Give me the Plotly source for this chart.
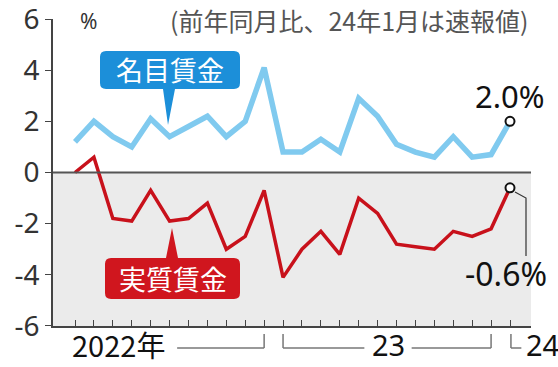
import plotly.graph_objects as go

# ---- data ----
months = ["2022-02", "2022-03", "2022-04", "2022-05", "2022-06", "2022-07",
          "2022-08", "2022-09", "2022-10", "2022-11", "2022-12",
          "2023-01", "2023-02", "2023-03", "2023-04", "2023-05", "2023-06",
          "2023-07", "2023-08", "2023-09", "2023-10", "2023-11", "2023-12",
          "2024-01"]
nominal = [1.2, 2.0, 1.4, 1.0, 2.1, 1.4, 1.8, 2.2, 1.4, 2.0, 4.1,
           0.8, 0.8, 1.3, 0.8, 2.9, 2.2, 1.1, 0.8, 0.6, 1.4, 0.6, 0.7, 2.0]
real = [0.0, 0.6, -1.8, -1.9, -0.7, -1.9, -1.8, -1.2, -3.0, -2.5, -0.7,
        -4.1, -3.0, -2.3, -3.2, -1.0, -1.6, -2.8, -2.9, -3.0, -2.3, -2.5, -2.2, -0.6]
ytick_vals = [-6, -4, -2, 0, 2, 4, 6]
ytick_text = ["-6", "-4", "-2", "0", "2", "4", "6"]
year_labels = ["2022年", "23", "24"]
name_nominal = "名目賃金"
name_real = "実質賃金"
note_text = "(前年同月比、24年1月は速報値)"

# month index: Jan 2022 = 0
x = [(int(m[:4]) - 2022) * 12 + int(m[5:]) - 1 for m in months]

W, H = 558, 367
L, R, T, B = 53, 27, 19, 41
PW, PH = W - L - R, H - T - B
FONT = "Noto Sans CJK JP"
NUMFONT = "Noto Sans"

def pxx(p):
    return (p - L) / PW

def pxy(p):
    return (H - B - p) / PH

fig = go.Figure()
fig.add_trace(go.Scatter(x=x, y=nominal, mode="lines",
                         line=dict(color="#80caef", width=5.5), hoverinfo="skip"))
fig.add_trace(go.Scatter(x=x, y=real, mode="lines",
                         line=dict(color="#c8111b", width=3.5), hoverinfo="skip"))
fig.add_trace(go.Scatter(x=[x[-1], x[-1]], y=[nominal[-1], real[-1]], mode="markers",
                         marker=dict(size=9, color="white", line=dict(color="#111", width=2)),
                         hoverinfo="skip", cliponaxis=False))

shapes = []
shapes.append(dict(type="rect", xref="paper", yref="y", x0=0, x1=1, y0=-6, y1=0,
                   fillcolor="#ebebeb", line=dict(width=0), layer="below"))
shapes.append(dict(type="line", xref="paper", yref="y", x0=0, x1=1, y0=0, y1=0,
                   line=dict(color="#555", width=1.8)))

def rounded_box(x0, y0, x1, y1, r, ptr=None):
    def P(a, b):
        return f"{pxx(a):.5f},{pxy(b):.5f}"
    d = f"M {P(x0 + r, y0)} "
    if ptr and ptr[4] == "top":
        d += f"L {P(ptr[0], y0)} L {P(ptr[2], ptr[3])} L {P(ptr[1], y0)} "
    d += f"L {P(x1 - r, y0)} Q {P(x1, y0)} {P(x1, y0 + r)} "
    d += f"L {P(x1, y1 - r)} Q {P(x1, y1)} {P(x1 - r, y1)} "
    if ptr and ptr[4] == "bottom":
        d += f"L {P(ptr[1], y1)} L {P(ptr[2], ptr[3])} L {P(ptr[0], y1)} "
    d += f"L {P(x0 + r, y1)} Q {P(x0, y1)} {P(x0, y1 - r)} "
    d += f"L {P(x0, y0 + r)} Q {P(x0, y0)} {P(x0 + r, y0)} Z"
    return d

shapes.append(dict(type="path", xref="paper", yref="paper",
                   path=rounded_box(100, 51, 240, 89, 6, (163, 175, 168, 125, "bottom")),
                   fillcolor="#1c8fd9", line=dict(width=0)))
shapes.append(dict(type="path", xref="paper", yref="paper",
                   path=rounded_box(105, 258, 240, 299, 6, (166, 178, 172, 228, "top")),
                   fillcolor="#d0161e", line=dict(width=0)))

shapes.append(dict(type="path", xref="paper", yref="paper",
                   path=f"M {pxx(515):.5f},{pxy(192):.5f} L {pxx(526):.5f},{pxy(198):.5f} L {pxx(526):.5f},{pxy(256):.5f}",
                   line=dict(color="#333", width=1.2)))

gc = "#777"
yb = pxy(348)
yt = pxy(334)
def seg(xa, ya, xb, yb_):
    return dict(type="line", xref="x", yref="paper", x0=xa, x1=xb, y0=ya, y1=yb_,
                line=dict(color=gc, width=1.5))
shapes += [seg(6.4, yb, 11, yb), seg(11, yb, 11, yt),
           seg(12, yt, 12, yb), seg(12, yb, 16.3, yb),
           seg(18.8, yb, 23, yb), seg(23, yb, 23, yt),
           seg(24.05, yt, 24.05, yb), seg(24.05, yb, 24.6, yb)]

def ann(text, xp, yp, size, color, xanchor="center", family=FONT):
    return dict(text=text, xref="paper", yref="paper", x=pxx(xp), y=pxy(yp),
                xanchor=xanchor, yanchor="middle", showarrow=False,
                font=dict(family=family, size=size, color=color))

annotations = [
    ann(name_nominal, 170, 70, 27, "white"),
    ann(name_real, 172.5, 278.5, 27, "white"),
    ann(f"{nominal[-1]:.1f}%", 510, 96, 31, "#111", family=NUMFONT),
    ann(f"{real[-1]:.1f}%", 506, 273, 32, "#111", family=NUMFONT),
    ann("%", 88, 21, 21, "#333", family=NUMFONT),
    ann(note_text, 168, 20, 25, "#555", xanchor="left"),
    ann(year_labels[0], 118, 344, 29, "#111"),
    ann(year_labels[1], 388, 344, 29, "#111", family=NUMFONT),
    ann(year_labels[2], 524, 344, 29, "#111", xanchor="left", family=NUMFONT),
]

fig.update_layout(
    width=W, height=H, margin=dict(l=L, r=R, t=T, b=B, autoexpand=False),
    paper_bgcolor="white", plot_bgcolor="white", showlegend=False,
    shapes=shapes, annotations=annotations,
    xaxis=dict(range=[1 - 22 / 18.91, 24 + 21 / 18.91], showgrid=False, zeroline=False,
               tickvals=x, ticks="inside", ticklen=6, tickcolor="#444", tickwidth=1.3,
               showticklabels=False, showline=True, linecolor="#444", linewidth=1.6,
               automargin=False),
    yaxis=dict(range=[-6.001, 6.001], showgrid=False, zeroline=False,
               tickvals=ytick_vals, ticktext=ytick_text, ticks="outside", ticklen=6,
               tickcolor="#444", tickwidth=1.3, showline=True, linecolor="#444", linewidth=1.6,
               ticklabelstandoff=0, ticklabeloverflow="allow", automargin=False,
               tickfont=dict(family=NUMFONT, size=28, color="#333")),
)

fig.write_html("out.html")
